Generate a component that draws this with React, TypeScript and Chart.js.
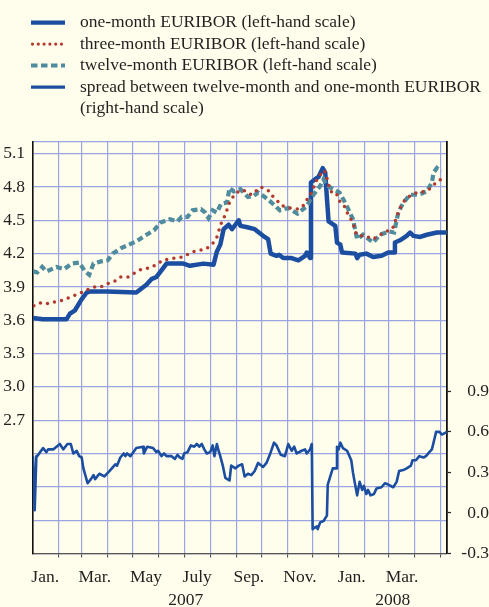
import React, { useEffect, useRef } from 'react';
import { Chart, registerables } from 'chart.js';

Chart.register(...registerables);

// ---------- data (x = days since 1 January 2007) ----------
const oneMonthDays = [1,13,41,45,51,59,65,69,89,124,136,142,148,154,158,160,180,188,204,216,220,224,228,234,238,242,246,248,255,265,275,281,284,291,294,299,309,317,325,327,331,332,337,341,346,349,351,353,361,363,367,369,385,387,390,398,406,416,424,431,432,438,446,450,454,462,470,482,494];
const oneMonthValues = [3.62,3.61,3.61,3.66,3.69,3.79,3.85,3.86,3.86,3.85,3.92,3.97,3.99,4.05,4.09,4.11,4.11,4.09,4.11,4.10,4.22,4.28,4.42,4.46,4.42,4.46,4.50,4.45,4.44,4.42,4.36,4.33,4.20,4.18,4.19,4.16,4.16,4.14,4.18,4.21,4.16,4.84,4.87,4.89,4.97,4.93,4.70,4.49,4.45,4.30,4.28,4.21,4.20,4.16,4.19,4.20,4.17,4.18,4.21,4.21,4.30,4.32,4.36,4.39,4.36,4.35,4.37,4.39,4.39];

const threeMonthDays = [2,11,20,29,37,46,56,64,73,82,90,98,105,114,123,130,139,148,155,162,171,180,189,198,207,215,220,225,230,235,240,247,252,261,272,281,286,298,307,317,324,329,334,337,342,348,351,355,362,365,371,375,381,384,386,392,400,406,414,422,429,435,441,450,458,468,475,482,490,494];
const threeMonthValues = [3.73,3.76,3.75,3.77,3.78,3.81,3.84,3.87,3.90,3.90,3.93,3.95,3.99,3.99,4.03,4.06,4.07,4.10,4.14,4.15,4.16,4.17,4.21,4.23,4.24,4.29,4.35,4.47,4.55,4.66,4.72,4.77,4.77,4.73,4.80,4.77,4.72,4.63,4.61,4.60,4.64,4.71,4.76,4.84,4.90,4.95,4.88,4.76,4.75,4.68,4.64,4.57,4.49,4.43,4.37,4.36,4.35,4.33,4.37,4.40,4.42,4.55,4.66,4.72,4.75,4.76,4.79,4.85,4.88,4.88];

const twelveMonthDays = [1,6,12,17,29,38,47,56,63,68,73,82,90,96,106,115,124,134,145,153,164,173,178,185,191,201,206,210,215,220,225,232,235,240,248,257,264,269,277,285,295,305,316,326,335,343,347,350,356,366,374,382,387,394,406,414,425,431,436,442,450,460,470,476,478,482,487];
const twelveMonthValues = [4.04,4.03,4.08,4.04,4.08,4.06,4.11,4.12,4.04,4.01,4.11,4.13,4.14,4.20,4.25,4.28,4.31,4.36,4.41,4.48,4.51,4.49,4.53,4.53,4.59,4.60,4.57,4.52,4.59,4.57,4.65,4.66,4.79,4.76,4.78,4.71,4.72,4.75,4.71,4.66,4.59,4.61,4.56,4.62,4.73,4.81,4.87,4.82,4.79,4.75,4.64,4.51,4.33,4.37,4.30,4.37,4.40,4.39,4.57,4.66,4.73,4.73,4.76,4.84,4.93,4.97,4.94];

const spreadDays = [1,3,5,6,13,17,19,25,33,37,42,46,49,53,56,59,61,66,70,73,75,80,86,92,99,101,105,109,111,113,117,124,132,133,137,144,148,150,154,157,160,166,170,173,176,179,181,185,189,193,196,199,202,205,208,212,215,217,220,222,224,227,230,235,237,242,246,250,253,257,261,265,269,275,279,283,288,291,296,301,305,309,312,315,321,325,327,331,333,334,336,339,340,343,347,351,352,355,358,362,363,365,367,370,375,380,382,384,387,390,393,395,398,400,403,407,410,416,420,424,430,434,437,443,446,451,453,457,461,466,469,473,476,478,481,485,488,494];
const spreadValues = [0.42,0.02,0.42,0.42,0.48,0.45,0.47,0.47,0.51,0.47,0.51,0.51,0.44,0.46,0.42,0.41,0.33,0.22,0.25,0.28,0.25,0.29,0.27,0.31,0.36,0.35,0.41,0.44,0.42,0.44,0.42,0.48,0.49,0.44,0.49,0.48,0.45,0.46,0.42,0.44,0.42,0.42,0.40,0.43,0.41,0.40,0.44,0.45,0.50,0.49,0.51,0.49,0.51,0.47,0.44,0.45,0.50,0.42,0.51,0.46,0.42,0.35,0.26,0.24,0.35,0.33,0.35,0.36,0.27,0.29,0.28,0.31,0.37,0.34,0.37,0.43,0.52,0.50,0.43,0.42,0.51,0.46,0.49,0.44,0.46,0.47,0.44,0.47,0.51,-0.12,-0.11,-0.10,-0.12,-0.07,-0.06,-0.02,0.21,0.27,0.33,0.33,0.49,0.47,0.52,0.48,0.46,0.39,0.30,0.23,0.13,0.23,0.17,0.20,0.14,0.17,0.13,0.14,0.18,0.19,0.22,0.21,0.19,0.23,0.31,0.32,0.33,0.35,0.39,0.39,0.42,0.41,0.42,0.45,0.47,0.52,0.60,0.60,0.58,0.60];

// ---------- axes / labels ----------
const leftTickValues = [1.5,1.8,2.1,2.4,2.7,3.0,3.3,3.6,3.9,4.2,4.5,4.8,5.1];
const leftTickLabels = ['','','','','2.7','3.0','3.3','3.6','3.9','4.2','4.5','4.8','5.1'];
const rightTickValues = [-0.3,0.0,0.3,0.6,0.9];
const rightTickLabels = ['-0.3','0.0','0.3','0.6','0.9'];
const monthLabelMonths = ['2007-01','2007-03','2007-05','2007-07','2007-09','2007-11','2008-01','2008-03'];
const monthLabels = ['Jan.','Mar.','May','July','Sep.','Nov.','Jan.','Mar.'];
const yearLabels = ['2007','2008'];

const legendLabels = [
  ['one-month EURIBOR (left-hand scale)'],
  ['three-month EURIBOR (left-hand scale)'],
  ['twelve-month EURIBOR (left-hand scale)'],
  ['spread between twelve-month and one-month EURIBOR', '(right-hand scale)'],
];

const X_MIN = 1;
const X_MAX = 494;
const LEFT_MIN = 1.5;
const LEFT_MAX = 5.205;
const RIGHT_MIN = -0.3;
const RIGHT_MAX = 2.744;

const BG = '#FFFDEB';
const GRID = '#9AA5E3';
const BLUE = '#1B4EA0';
const RED = '#B3382D';
const TEAL = '#4F8C9D';
const TEXT = '#231F20';
const FAMILY = '"Liberation Serif", "Times New Roman", serif';
const FONT_SIZE = 17.5;

const DAY_MS = 86400000;
const BASE = Date.UTC(2007, 0, 1);
const dayOf = (y: number, m: number, d: number) => (Date.UTC(y, m, d) - BASE) / DAY_MS;

const monthStartDays: number[] = [];
for (let y = 2007; y <= 2008; y++) {
  for (let m = 0; m < 12; m++) {
    const d = dayOf(y, m, 1);
    if (d > X_MIN && d < X_MAX) monthStartDays.push(d);
  }
}
const monthLabelDays = monthLabelMonths.map((s) => {
  const [y, m] = s.split('-').map(Number);
  return (dayOf(y, m - 1, 1) + dayOf(y, m, 1)) / 2;
});
const yearLabelDays = yearLabels.map((s) => {
  const y = Number(s);
  const a = Math.max(X_MIN, dayOf(y, 0, 1));
  const b = Math.min(X_MAX, dayOf(y + 1, 0, 1));
  return (a + b) / 2;
});

const toPoints = (xs: number[], ys: number[]) => xs.map((x, i) => ({ x, y: ys[i] }));

const bgPlugin = {
  id: 'bgFill',
  beforeDraw(chart: any) {
    const ctx = chart.ctx;
    ctx.save();
    ctx.fillStyle = BG;
    ctx.fillRect(0, 0, chart.width, chart.height);
    ctx.restore();
  },
};

const legendPlugin = {
  id: 'customLegend',
  afterDraw(chart: any) {
    const ctx = chart.ctx;
    ctx.save();
    ctx.font = `${FONT_SIZE}px ${FAMILY}`;
    ctx.fillStyle = TEXT;
    ctx.textBaseline = 'alphabetic';
    ctx.textAlign = 'left';
    let line = 0;
    const firstBaseline = 27.3;
    const step = 21.5;
    legendLabels.forEach((lines, i) => {
      const ds = chart.data.datasets[i];
      const base = firstBaseline + step * line;
      const sy = base - 4.7;
      ctx.save();
      ctx.strokeStyle = ds.borderColor;
      ctx.lineWidth = ds.legendWidth;
      ctx.lineCap = ds.borderCapStyle || 'butt';
      ctx.setLineDash(ds.legendDash || []);
      ctx.beginPath();
      ctx.moveTo(ds.legendStart, sy);
      ctx.lineTo(65, sy);
      ctx.stroke();
      ctx.restore();
      lines.forEach((t, j) => {
        ctx.fillText(t, 80, firstBaseline + step * (line + j));
      });
      line += lines.length;
    });
    ctx.restore();
  },
};

export default function App() {
  const canvasRef = useRef<HTMLCanvasElement | null>(null);

  useEffect(() => {
    const canvas = canvasRef.current;
    if (!canvas) return;
    const tickFont = { family: FAMILY, size: FONT_SIZE };
    const chart = new Chart(canvas, {
      type: 'line',
      data: {
        datasets: [
          {
            label: 'one-month EURIBOR (left-hand scale)',
            data: toPoints(oneMonthDays, oneMonthValues),
            borderColor: BLUE,
            borderWidth: 4.5,
            borderJoinStyle: 'round',
            yAxisID: 'y',
            order: 2,
            legendWidth: 4.3,
            legendStart: 31,
          } as any,
          {
            label: 'three-month EURIBOR (left-hand scale)',
            data: toPoints(threeMonthDays, threeMonthValues),
            borderColor: RED,
            borderWidth: 3.5,
            borderDash: [0, 7.2],
            borderCapStyle: 'round',
            yAxisID: 'y',
            order: 0,
            legendWidth: 3.2,
            legendDash: [0, 5.8],
            legendStart: 32.5,
          } as any,
          {
            label: 'twelve-month EURIBOR (left-hand scale)',
            data: toPoints(twelveMonthDays, twelveMonthValues),
            borderColor: TEAL,
            borderWidth: 4.2,
            borderDash: [6, 3.5],
            yAxisID: 'y',
            order: 1,
            legendWidth: 4,
            legendDash: [6.5, 3.5],
            legendStart: 31,
          } as any,
          {
            label: 'spread between twelve-month and one-month EURIBOR (right-hand scale)',
            data: toPoints(spreadDays, spreadValues),
            borderColor: BLUE,
            borderWidth: 2.6,
            borderJoinStyle: 'round',
            yAxisID: 'y2',
            order: 3,
            legendWidth: 3.2,
            legendStart: 31,
          } as any,
        ],
      },
      options: {
        animation: false,
        responsive: false,
        devicePixelRatio: 1,
        layout: { padding: { top: 142, left: 0, right: 0, bottom: 0 } },
        elements: { point: { radius: 0 }, line: { tension: 0 } },
        plugins: { legend: { display: false }, tooltip: { enabled: false } },
        scales: {
          x: {
            type: 'linear',
            position: 'bottom',
            min: X_MIN,
            max: X_MAX,
            weight: 0,
            afterBuildTicks: (s: any) => {
              s.ticks = monthStartDays.map((v) => ({ value: v }));
            },
            afterFit: (s: any) => {
              s.height = 5;
            },
            ticks: { display: false, autoSkip: false },
            grid: { color: GRID, lineWidth: 1.2, drawTicks: true, tickLength: 4, tickColor: '#444', tickWidth: 1 },
            border: { display: true, color: '#555', width: 1.2 },
          },
          xm: {
            type: 'linear',
            position: 'bottom',
            min: X_MIN,
            max: X_MAX,
            weight: 1,
            afterBuildTicks: (s: any) => {
              s.ticks = monthLabelDays.map((v) => ({ value: v }));
            },
            afterFit: (s: any) => {
              s.height = 29.5;
            },
            ticks: {
              autoSkip: false,
              maxRotation: 0,
              minRotation: 0,
              padding: 8.5,
              font: tickFont,
              color: TEXT,
              callback: (_v: any, i: number) => monthLabels[i],
            },
            grid: { display: false, drawTicks: false },
            border: { display: false },
          },
          xy: {
            type: 'linear',
            position: 'bottom',
            min: X_MIN,
            max: X_MAX,
            weight: 2,
            afterBuildTicks: (s: any) => {
              s.ticks = yearLabelDays.map((v) => ({ value: v }));
            },
            afterFit: (s: any) => {
              s.height = 19;
            },
            ticks: {
              autoSkip: false,
              maxRotation: 0,
              minRotation: 0,
              padding: 2,
              font: tickFont,
              color: TEXT,
              callback: (_v: any, i: number) => yearLabels[i],
            },
            grid: { display: false, drawTicks: false },
            border: { display: false },
          },
          y: {
            type: 'linear',
            position: 'left',
            min: LEFT_MIN,
            max: LEFT_MAX,
            afterBuildTicks: (s: any) => {
              s.ticks = [...leftTickValues.map((v) => ({ value: v })), { value: LEFT_MAX }];
            },
            afterFit: (s: any) => {
              s.width = 33;
            },
            ticks: {
              autoSkip: false,
              padding: 8,
              font: tickFont,
              color: TEXT,
              callback: (_v: any, i: number) => leftTickLabels[i] ?? '',
            },
            grid: { color: GRID, lineWidth: 1.2, drawTicks: false },
            border: { display: true, color: '#111', width: 1.6 },
          },
          y2: {
            type: 'linear',
            position: 'right',
            min: RIGHT_MIN,
            max: RIGHT_MAX,
            afterBuildTicks: (s: any) => {
              s.ticks = rightTickValues.map((v) => ({ value: v }));
            },
            afterFit: (s: any) => {
              s.width = 42;
            },
            ticks: {
              autoSkip: false,
              padding: 9,
              crossAlign: 'far',
              font: tickFont,
              color: TEXT,
              callback: (_v: any, i: number) => rightTickLabels[i] ?? '',
            },
            grid: { drawOnChartArea: false, drawTicks: true, tickLength: 4, tickColor: '#222', tickWidth: 1.2 },
            border: { display: true, color: '#111', width: 1.8 },
          },
        },
      } as any,
      plugins: [bgPlugin, legendPlugin],
    });
    return () => chart.destroy();
  }, []);

  return (
    <div style={{ position: 'fixed', left: 0, top: 0, width: 489, height: 607, background: BG }}>
      <canvas ref={canvasRef} width={489} height={607} style={{ display: 'block', width: 489, height: 607 }} />
    </div>
  );
}
